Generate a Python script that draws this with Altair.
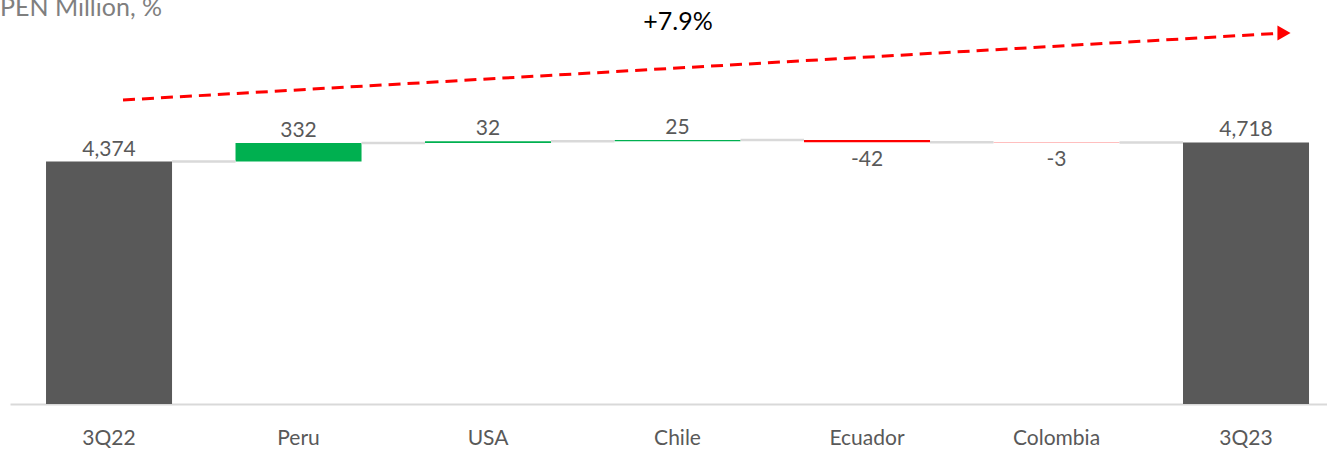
import altair as alt
import pandas as pd

categories = ["3Q22", "Peru", "USA", "Chile", "Ecuador", "Colombia", "3Q23"]
values = [4374, 332, 32, 25, -42, -3, 4718]
kinds = ["total", "delta", "delta", "delta", "delta", "delta", "total"]
unit_title = "PEN Million, %"

FONT = "Lato"
GREY_TXT = "#595959"

# build waterfall table
rows = []
running = 0
for c, v, k in zip(categories, values, kinds):
    if k == "total":
        s, e = 0, v
        running = v
        typ = "total"
    else:
        s, e = running, running + v
        running = e
        typ = "up" if v >= 0 else "down"
    label = f"{v:,}"
    rows.append(dict(cat=c, value=v, start=s, end=e, typ=typ, label=label,
                     top=max(s, e), bottom=min(s, e)))
df = pd.DataFrame(rows)

conn = pd.DataFrame([
    dict(frm=categories[i], to=categories[i + 1], level=df.loc[i, "end"])
    for i in range(len(categories) - 1)
])

growth = (values[-1] / values[0] - 1) * 100
growth_label = f"+{growth:.1f}%"

xscale = alt.Scale(domain=categories, paddingInner=0.335, paddingOuter=0.1425, align=0.667)
yscale = alt.Scale(domain=[0, 7287], nice=False, zero=True)

x_axis = alt.Axis(title=None, labelAngle=0, labelAlign="center", labelBaseline="alphabetic",
                  bandPosition=0.5, ticks=False, labelFont=FONT, labelFontSize=21,
                  labelColor=GREY_TXT, labelPadding=40, domainColor="#D9D9D9",
                  domainWidth=2, grid=False)

bars = alt.Chart(df).mark_bar().encode(
    x=alt.X("cat:N", scale=xscale, sort=categories, axis=x_axis),
    y=alt.Y("start:Q", scale=yscale, axis=None),
    y2="end:Q",
    color=alt.Color("typ:N", scale=alt.Scale(domain=["total", "up", "down"],
                                             range=["#595959", "#00B050", "#FF0000"]),
                    legend=None),
)

connectors = alt.Chart(conn).mark_rule(color="#D9D9D9", strokeWidth=2.5).encode(
    x=alt.X("frm:N", scale=xscale, bandPosition=1, sort=categories, axis=x_axis),
    x2=alt.X2("to:N", bandPosition=0),
    y=alt.Y("level:Q", scale=yscale, axis=None),
)

pos_labels = alt.Chart(df[df["value"] >= 0]).mark_text(
    font=FONT, fontSize=21, color=GREY_TXT, baseline="alphabetic", dy=-6
).encode(
    x=alt.X("cat:N", scale=xscale, sort=categories, axis=x_axis),
    y=alt.Y("top:Q", scale=yscale, axis=None),
    text="label:N",
)

neg_labels = alt.Chart(df[df["value"] < 0]).mark_text(
    font=FONT, fontSize=21, color=GREY_TXT, baseline="alphabetic", dy=24
).encode(
    x=alt.X("cat:N", scale=xscale, sort=categories, axis=x_axis),
    y=alt.Y("bottom:Q", scale=yscale, axis=None),
    text="label:N",
)

ann = pd.DataFrame({"t": [growth_label], "u": [unit_title]})

arrow_line = alt.Chart(ann).mark_rule(color="#FF0000", strokeWidth=3, strokeDash=[12, 7]).encode(
    x=alt.value(113), y=alt.value(100), x2=alt.value(1266), y2=alt.value(33.5)
)
arrow_head = alt.Chart(ann).mark_point(shape="triangle-right", filled=True, color="#FF0000",
                                       size=230, opacity=1).encode(
    x=alt.value(1274), y=alt.value(33)
)
growth_text = alt.Chart(ann).mark_text(font=FONT, fontSize=25, color="#000000",
                                       baseline="alphabetic", align="center").encode(
    x=alt.value(668), y=alt.value(30), text="t:N"
)
title_text = alt.Chart(ann).mark_text(font=FONT, fontSize=25, color="#7F7F7F",
                                      baseline="alphabetic", align="left").encode(
    x=alt.value(-10), y=alt.value(15.5), text="u:N"
)

chart = alt.layer(
    bars, connectors, pos_labels, neg_labels, arrow_line, arrow_head, growth_text, title_text
).properties(
    width=1317, height=404,
    autosize=alt.AutoSizeParams(type="none"),
    padding={"left": 10, "right": 0, "top": 0, "bottom": 45},
    background="white",
).configure_view(stroke=None)

chart.save("out.html", embed_options={"renderer": "svg", "actions": False})
